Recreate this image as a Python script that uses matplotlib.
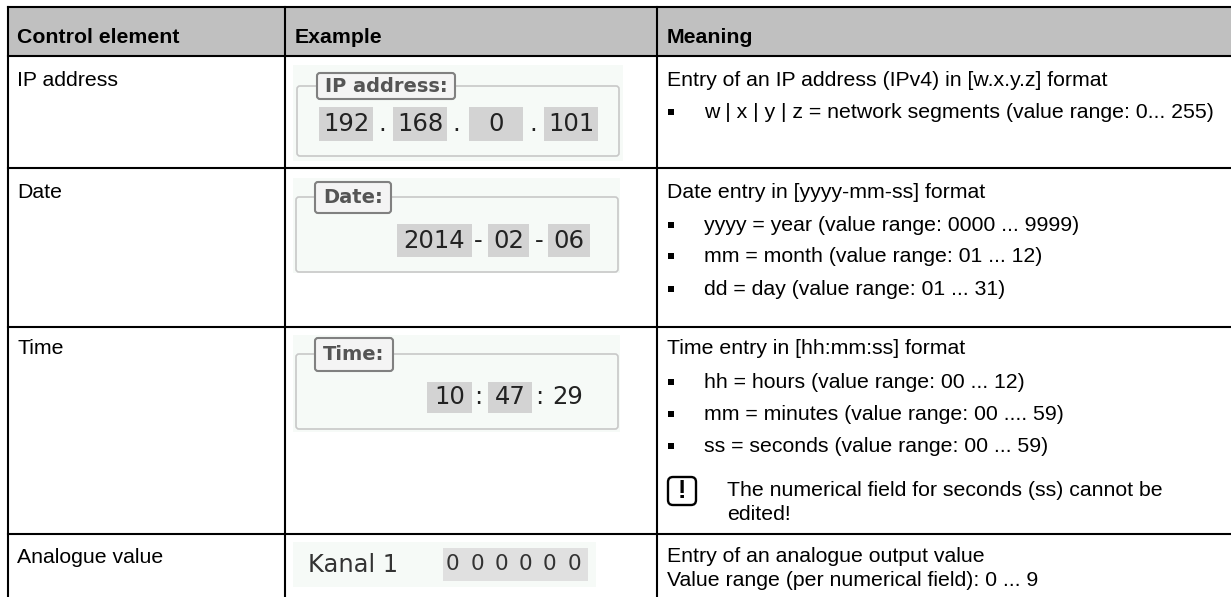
import matplotlib
matplotlib.use('Agg')
import matplotlib.pyplot as plt
from matplotlib import patches

W, H = 1231, 597
plt.rcParams['font.family'] = ['Liberation Sans', 'DejaVu Sans']

# column and row lines of the table, in pixels of the page
col_lines = [8, 285, 657]
row_lines = [7, 56, 168, 327, 534]

headers = ['Control element', 'Example', 'Meaning']
header_x = [17, 295, 667]
elements = ['IP address', 'Date', 'Time', 'Analogue value']
element_y = [86, 198, 354, 563]

meaning_plain = [
    ('Entry of an IP address (IPv4) in [w.x.y.z] format', 86),
    ('Date entry in [yyyy-mm-ss] format', 198),
    ('Time entry in [hh:mm:ss] format', 354),
    ('Entry of an analogue output value', 562),
    ('Value range (per numerical field): 0 ... 9', 586),
]
meaning_bullets = [
    ('w | x | y | z = network segments (value range: 0... 255)', 118),
    ('yyyy = year (value range: 0000 ... 9999)', 231),
    ('mm = month (value range: 01 ... 12)', 262),
    ('dd = day (value range: 01 ... 31)', 295),
    ('hh = hours (value range: 00 ... 12)', 388),
    ('mm = minutes (value range: 00 .... 59)', 420),
    ('ss = seconds (value range: 00 ... 59)', 452),
]
note_lines = [('The numerical field for seconds (ss) cannot be', 496), ('edited!', 520)]

# the input fields of the widgets: text, left, right
ip_fields = [('192', 319, 373), ('168', 393, 447), ('0', 469, 523), ('101', 544, 598)]
ip_seps = [('.', 382), ('.', 456), ('.', 533)]
date_fields = [('2014', 397, 472), ('02', 488, 529), ('06', 548, 590)]
date_seps = [('-', 478), ('-', 539)]
time_fields = [('10', 427, 472), ('47', 488, 532)]
time_plain = [('29', 568)]
time_seps = [(':', 478), (':', 539)]
kanal_digits = ['0', '0', '0', '0', '0', '0']
kanal_x = [452, 477, 501, 525, 549, 574]

fig = plt.figure(figsize=(W / 100, H / 100), dpi=100)
ax = fig.add_axes([0, 0, 1, 1])
ax.set_xlim(0, W)
ax.set_ylim(H, 0)
ax.axis('off')

ax.add_patch(patches.Rectangle((col_lines[0], row_lines[0]), W - col_lines[0],
                               row_lines[1] - row_lines[0], facecolor='#c0c0c0', edgecolor='none', zorder=0))
for y in row_lines:
    ax.plot([col_lines[0], W], [y, y], color='black', lw=1.5, solid_capstyle='projecting')
for x in col_lines:
    ax.plot([x, x], [row_lines[0], H], color='black', lw=1.5, solid_capstyle='projecting')

FS = 15.3
for x, t in zip(header_x, headers):
    ax.text(x, 43, t, fontsize=FS, fontweight='bold', va='baseline')
for t, y in zip(elements, element_y):
    ax.text(17, y, t, fontsize=FS, va='baseline')
for t, y in meaning_plain:
    ax.text(667, y, t, fontsize=FS, va='baseline')
for t, y in meaning_bullets:
    ax.plot(671, y - 6, marker='s', ms=3.8, color='black', mew=0)
    ax.text(704, y, t, fontsize=FS, va='baseline')
for t, y in note_lines:
    ax.text(727, y, t, fontsize=FS, va='baseline')
ax.add_patch(patches.FancyBboxPatch((668, 477), 28, 28, boxstyle='round,pad=0,rounding_size=5',
                                    facecolor='white', edgecolor='black', lw=1.7))
ax.text(681.5, 491, '!', fontsize=18, fontweight='bold', ha='center', va='center')


def widget(bg, box, tab, label, field_y, fields, seps, plain=()):
    ax.add_patch(patches.Rectangle((bg[0], bg[1]), bg[2] - bg[0], bg[3] - bg[1], facecolor='#f6faf7', edgecolor='none'))
    ax.add_patch(patches.FancyBboxPatch((box[0], box[1]), box[2] - box[0], box[3] - box[1],
                                        boxstyle='round,pad=0,rounding_size=3', facecolor='#f6faf7',
                                        edgecolor='#c8c8c8', lw=1.2))
    ax.add_patch(patches.FancyBboxPatch((tab[0], tab[1]), tab[2] - tab[0], tab[3] - tab[1],
                                        boxstyle='round,pad=0,rounding_size=3', facecolor='#f4f4f4',
                                        edgecolor='#808080', lw=1.5))
    ax.text((tab[0] + tab[2]) / 2, (tab[1] + tab[3]) / 2, label, fontsize=14, fontweight='bold', color='#555555',
            family='DejaVu Sans', ha='center', va='center')
    y0, y1 = field_y
    for t, x0, x1 in fields:
        ax.add_patch(patches.Rectangle((x0, y0), x1 - x0, y1 - y0, facecolor='#d3d3d3', edgecolor='none'))
        ax.text((x0 + x1) / 2, (y0 + y1) / 2, t, fontsize=17.5, family='DejaVu Sans', color='#222222',
                ha='center', va='center')
    for t, x in list(plain) + list(seps):
        ax.text(x, (y0 + y1) / 2, t, fontsize=17.5, family='DejaVu Sans', color='#222222', ha='center', va='center')


widget((293, 65, 623, 161), (297, 86, 619, 156), (317, 73, 455, 99), 'IP address:', (107, 141), ip_fields, ip_seps)
widget((293, 178, 620, 273), (296, 197, 618, 272), (315, 182, 391, 213), 'Date:', (224, 257), date_fields, date_seps)
widget((293, 335, 620, 432), (296, 354, 618, 429), (315, 338, 393, 371), 'Time:', (382, 413), time_fields, time_seps, time_plain)

ax.add_patch(patches.Rectangle((293, 542), 303, 45, facecolor='#f6faf7', edgecolor='none'))
ax.text(308, 565, 'Kanal 1', fontsize=17.4, family='DejaVu Sans', color='#333333', va='center')
ax.add_patch(patches.Rectangle((443, 548), 145, 33, facecolor='#e0e0e0', edgecolor='none'))
for x, d in zip(kanal_x, kanal_digits):
    ax.text(x, 564, d, fontsize=15.5, family='DejaVu Sans', color='#333333', ha='center', va='center')

fig.savefig('out.png', dpi=100)
